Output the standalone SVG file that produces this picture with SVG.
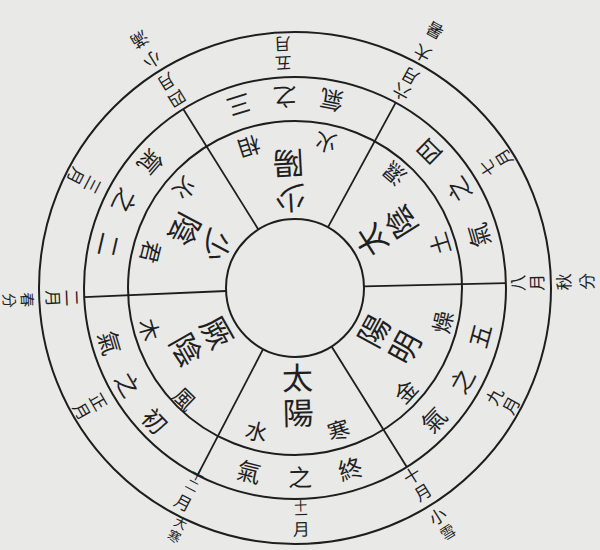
<svg xmlns="http://www.w3.org/2000/svg" width="600" height="550" viewBox="0 0 600 550">
<style>
text{font-family:"Noto Sans CJK TC","Noto Sans CJK SC",sans-serif;fill:#1f1f1f;text-anchor:middle;dominant-baseline:central;font-weight:400}
.big{font-size:31px}
.sm{font-size:22px}
.qi{font-size:24px}
.mo{font-size:17px}
.mo2{font-size:13px}
.out{font-size:17px}
.out2{font-size:15px}
.out3{font-size:13px}
.ring{fill:none;stroke:#1e1e1e;stroke-width:2}
.spoke{stroke:#1e1e1e;stroke-width:1.8}
</style>
<rect width="600" height="550" fill="#e9e9e7"/>
<g id="rings">
<circle class="ring" cx="295" cy="288" r="256"/>
<circle class="ring" cx="295" cy="288" r="211"/>
<circle class="ring" cx="295" cy="288" r="167"/>
<circle class="ring" cx="295" cy="288" r="69"/>
</g>
<g id="connectors">
<line class="spoke" x1="364" y1="286.4" x2="505.9" y2="283.2"/>
<line class="spoke" x1="331.6" y1="346.5" x2="406.8" y2="466.9"/>
<line class="spoke" x1="263.1" y1="349.2" x2="197.6" y2="475.2"/>
<line class="spoke" x1="226.1" y1="291" x2="84.2" y2="297.2"/>
<line class="spoke" x1="258.4" y1="229.5" x2="183.2" y2="109.1"/>
<line class="spoke" x1="327.9" y1="227.4" x2="395.7" y2="102.6"/>
</g>
<g id="sector-san">
<text class="big" transform="translate(290.4,200.1) rotate(177)">少</text>
<text class="big" transform="translate(288.6,165.2) rotate(177)">陽</text>
<text class="sm" transform="translate(249.6,148.2) rotate(162)">相</text>
<text class="sm" transform="translate(325.6,144.2) rotate(192)">火</text>
<text class="qi" transform="translate(239.4,106.3) rotate(163)">三</text>
<text class="qi" transform="translate(285.1,98.3) rotate(177)">之</text>
<text class="qi" transform="translate(331.3,101.5) rotate(191)">氣</text>
<text class="mo" transform="translate(283.3,64.3) rotate(177)">五</text>
<text class="mo" transform="translate(282.3,45.3) rotate(177)">月</text>
</g>
<g id="sector-er">
<text class="big" transform="translate(217.3,246.7) rotate(118)">少</text>
<text class="big" transform="translate(186.4,230.3) rotate(118)">陰</text>
<text class="sm" transform="translate(152.4,252.4) rotate(104)">君</text>
<text class="sm" transform="translate(185.8,189.6) rotate(132)">火</text>
<text class="qi" transform="translate(109.9,245.3) rotate(103)">二</text>
<text class="qi" transform="translate(125.7,201.7) rotate(117)">之</text>
<text class="qi" transform="translate(151.6,163.3) rotate(131)">氣</text>
<text class="mo" transform="translate(93.6,185.4) rotate(117)">三</text>
<text class="mo" transform="translate(76.7,176.8) rotate(117)">月</text>
</g>
<g id="sector-chu">
<text class="big" transform="translate(218.4,331.3) rotate(60.5)">厥</text>
<text class="big" transform="translate(187.9,348.6) rotate(60.5)">陰</text>
<text class="sm" transform="translate(185.4,397.6) rotate(45)">風</text>
<text class="sm" transform="translate(150.8,329.3) rotate(74)">木</text>
<text class="qi" transform="translate(155.7,420.2) rotate(46.5)">初</text>
<text class="qi" transform="translate(128.7,384) rotate(60)">之</text>
<text class="qi" transform="translate(110.9,342.5) rotate(73.5)">氣</text>
<text class="mo" transform="translate(99.3,401) rotate(60)">正</text>
<text class="mo" transform="translate(82.8,410.5) rotate(60)">月</text>
</g>
<g id="sector-zhong">
<text class="big" transform="translate(297.3,376) rotate(-1.5)">太</text>
<text class="big" transform="translate(298.2,411) rotate(-1.5)">陽</text>
<text class="sm" transform="translate(338,428.6) rotate(-17)">寒</text>
<text class="sm" transform="translate(257,430) rotate(15)">水</text>
<text class="qi" transform="translate(350,467.8) rotate(-17)">終</text>
<text class="qi" transform="translate(299.9,475.9) rotate(-1.5)">之</text>
<text class="qi" transform="translate(249.5,470.4) rotate(14)">氣</text>
<text class="mo2" transform="translate(300.7,505) rotate(-1.5)">十</text>
<text class="mo2" transform="translate(301,514) rotate(-1.5)">一</text>
<text class="mo" transform="translate(301.4,528) rotate(-1.5)">月</text>
</g>
<g id="sector-wu">
<text class="big" transform="translate(372.3,330) rotate(-61.5)">陽</text>
<text class="big" transform="translate(403.1,346.7) rotate(-61.5)">明</text>
<text class="sm" transform="translate(441.2,321.8) rotate(-77)">燥</text>
<text class="sm" transform="translate(404.7,390.3) rotate(-47)">金</text>
<text class="qi" transform="translate(478.9,335.6) rotate(-75.5)">五</text>
<text class="qi" transform="translate(461.2,380.1) rotate(-61)">之</text>
<text class="qi" transform="translate(432.8,418.8) rotate(-46.5)">氣</text>
<text class="mo" transform="translate(493.6,395.8) rotate(-61.5)">九</text>
<text class="mo" transform="translate(510.3,404.9) rotate(-61.5)">月</text>
</g>
<g id="sector-si">
<text class="big" transform="translate(369.6,241.4) rotate(238)">太</text>
<text class="big" transform="translate(399.3,222.8) rotate(238)">陰</text>
<text class="sm" transform="translate(393.4,174.8) rotate(221)">濕</text>
<text class="sm" transform="translate(438.4,244.1) rotate(253)">土</text>
<text class="qi" transform="translate(428.2,152.5) rotate(224.5)">四</text>
<text class="qi" transform="translate(457.9,190.1) rotate(239)">之</text>
<text class="qi" transform="translate(477.6,235.6) rotate(254)">氣</text>
<text class="mo" transform="translate(486.6,168.2) rotate(238)">七</text>
<text class="mo" transform="translate(502.8,158.2) rotate(238)">月</text>
</g>
<g id="boundary-qiufen">
<text class="mo" transform="translate(516.9,283) rotate(-91.3)">八</text>
<text class="mo" transform="translate(535.9,282.5) rotate(-91.3)">月</text>
<text class="out" transform="translate(562.9,281.9) rotate(-91.3)">秋</text>
<text class="out" transform="translate(585.9,281.4) rotate(-91.3)">分</text>
</g>
<g id="boundary-xiaoxue">
<text class="mo" transform="translate(411.6,474.6) rotate(-32)">十</text>
<text class="mo" transform="translate(422.2,491.5) rotate(-32)">月</text>
<text class="out" transform="translate(437,515.5) rotate(-32)">小</text>
<text class="out2" transform="translate(447.4,531.5) rotate(-32)">雪</text>
</g>
<g id="boundary-dahan">
<text class="mo2" transform="translate(198,474.3) rotate(27.5)">十</text>
<text class="mo2" transform="translate(192.5,484.9) rotate(27.5)">二</text>
<text class="mo" transform="translate(183.7,501.8) rotate(27.5)">月</text>
<text class="out3" transform="translate(181,522.5) rotate(26)">大</text>
<text class="out3" transform="translate(174.5,536) rotate(26)">寒</text>
</g>
<g id="boundary-chunfen">
<text class="mo" transform="translate(73.2,297.7) rotate(87.5)">二</text>
<text class="mo" transform="translate(54.2,298.5) rotate(87.5)">月</text>
<text class="out2" transform="translate(28,299.7) rotate(87.5)">春</text>
<text class="out2" transform="translate(10,300.5) rotate(87.5)">分</text>
</g>
<g id="boundary-xiaoman">
<text class="mo" transform="translate(177.4,99.7) rotate(148)">四</text>
<text class="mo" transform="translate(166.8,82.8) rotate(148)">月</text>
<text class="out" transform="translate(153,60.7) rotate(148)">小</text>
<text class="out" transform="translate(140.3,40.4) rotate(148)">滿</text>
</g>
<g id="boundary-dashu">
<text class="mo" transform="translate(400.9,92.9) rotate(208.5)">六</text>
<text class="mo" transform="translate(409.5,77.1) rotate(208.5)">月</text>
<text class="out" transform="translate(421.9,54.2) rotate(208.5)">大</text>
<text class="out" transform="translate(434.3,31.4) rotate(208.5)">暑</text>
</g>
</svg>
